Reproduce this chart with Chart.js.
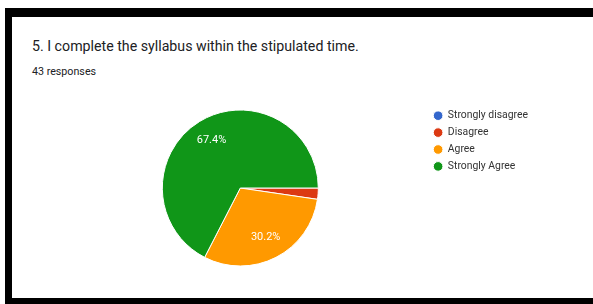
<!DOCTYPE html>
<html lang="en">
  <head>
    <meta charset="UTF-8" />
    <title>Syllabus</title>
    <style>
      body {
        margin: 0;
        padding: 0;
        width: 593px;
        height: 304px;
        overflow: hidden;
        background-color: #fff;
        font-family: Roboto, Arial, sans-serif;
        position: relative;
      }
      .frame-top {
        position: absolute;
        left: 5px;
        top: 8px;
        width: 588px;
        height: 9px;
        background-color: #000;
      }
      .frame-left {
        position: absolute;
        left: 5px;
        top: 8px;
        width: 7px;
        height: 296px;
        background-color: #000;
      }
      .frame-bottom {
        position: absolute;
        left: 5px;
        top: 298px;
        width: 588px;
        height: 6px;
        background-color: #000;
      }
      .title {
        position: absolute;
        left: 32px;
        top: 37.5px;
        font-size: 14.2px;
        color: #202124;
        white-space: nowrap;
      }
      .sub {
        position: absolute;
        left: 32px;
        top: 65px;
        font-size: 10.7px;
        color: #202124;
        white-space: nowrap;
      }
      #pie {
        position: absolute;
        left: 0;
        top: 0;
      }
    </style>
  </head>
  <body>
    <div class="frame-top"></div>
    <div class="frame-left"></div>
    <div class="frame-bottom"></div>
    <div class="title">5. I complete the syllabus within the stipulated time.</div>
    <div class="sub">43 responses</div>
    <canvas id="pie" width="593" height="304"></canvas>

    <script src="https://cdn.jsdelivr.net/npm/chart.js@4.4.0/dist/chart.umd.min.js"></script>
    <script>
      const answers = ["Strongly disagree", "Disagree", "Agree", "Strongly Agree"];
      const counts = [0, 1, 13, 29];
      const sliceColors = ["#3366cc", "#dc3912", "#ff9900", "#109618"];

      // percentage labels inside the big slices
      const percentLabels = {
        id: "percentLabels",
        afterDatasetsDraw(chart) {
          const ctx = chart.ctx;
          const total = counts.reduce((a, b) => a + b, 0);
          const meta = chart.getDatasetMeta(0);
          ctx.save();
          ctx.fillStyle = "#fff";
          ctx.font = "11px Roboto, Arial, sans-serif";
          ctx.textAlign = "center";
          ctx.textBaseline = "middle";
          meta.data.forEach((arc, i) => {
            const share = counts[i] / total;
            if (share < 0.05) return;
            const p = arc.getProps(["x", "y", "startAngle", "endAngle", "outerRadius"], true);
            const mid = (p.startAngle + p.endAngle) / 2;
            const r = p.outerRadius * 0.71;
            ctx.fillText(
              (share * 100).toFixed(1) + "%",
              p.x + Math.cos(mid) * r,
              p.y + Math.sin(mid) * r
            );
          });
          ctx.restore();
        },
      };

      new Chart(document.getElementById("pie"), {
        type: "pie",
        data: {
          labels: answers,
          datasets: [
            {
              data: counts,
              backgroundColor: sliceColors,
              borderColor: "#fff",
              borderWidth: 1,
              radius: 78,
            },
          ],
        },
        options: {
          responsive: false,
          animation: false,
          rotation: 90,
          layout: {
            padding: { left: 53.5, right: 55, top: 104, bottom: 32 },
          },
          plugins: {
            tooltip: { enabled: false },
            legend: {
              position: "right",
              align: "start",
              labels: {
                usePointStyle: true,
                pointStyle: "circle",
                boxWidth: 9,
                boxHeight: 6.8,
                padding: 6.5,
                color: "#333",
                font: { family: "Roboto, Arial, sans-serif", size: 10.4 },
              },
            },
          },
        },
        plugins: [percentLabels],
      });
    </script>
  </body>
</html>
